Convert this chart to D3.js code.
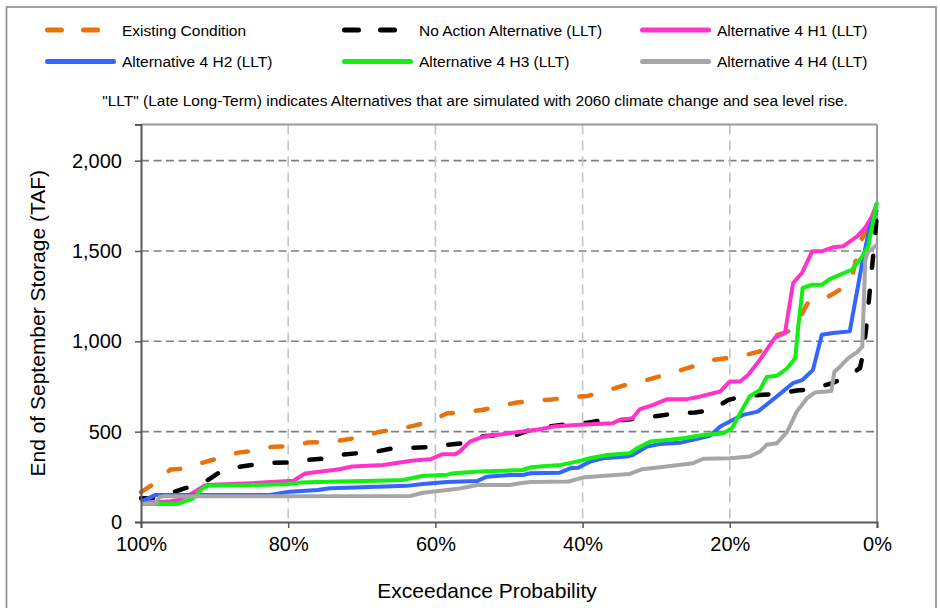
<!DOCTYPE html>
<html>
<head>
<meta charset="utf-8">
<script src="https://cdn.jsdelivr.net/npm/d3@7/dist/d3.min.js"></script>
<style>
  html, body { margin: 0; padding: 0; background: #fff; }
  svg { display: block; font-family: "Liberation Sans", Arial, sans-serif; }
</style>
</head>
<body>
<svg id="chart" width="940" height="608"></svg>
<script>
// ---------- DATA ----------
const seriesNames = ["Existing Condition", "No Action Alternative (LLT)", "Alternative 4 H1 (LLT)",
                     "Alternative 4 H2 (LLT)", "Alternative 4 H3 (LLT)", "Alternative 4 H4 (LLT)"];

const existingProb = [100, 98.5, 96, 94, 91.5, 89, 86.8, 84.5, 82, 79.5, 77.3, 74.7, 72.3, 70.2, 67.5, 65.2, 63, 60.7, 58.4, 56.3, 53.5, 51.5, 48.9, 46.5, 44.2, 41.7, 39.3, 37, 34.6, 32.5, 29.9, 27.7, 25.1, 23, 20.4, 18.3, 15.9, 14.1, 13.5, 11.4, 9.4, 7.1, 5, 3.4, 2.3, 1, 0];
const existingStorage = [165, 205, 290, 296, 330, 358, 384, 395, 417, 420, 440, 442, 455, 470, 500, 513, 532, 556, 602, 606, 621, 642, 661, 672, 678, 691, 698, 722, 754, 772, 802, 827, 860, 893, 907, 920, 944, 1018, 1036, 1064, 1212, 1236, 1286, 1355, 1552, 1640, 1700];

const noActionProb = [100, 98.6, 96.7, 94, 91.6, 89.5, 87.2, 84.8, 82.5, 80, 77.4, 75.3, 72.5, 70.5, 68, 65.8, 63.2, 61, 58.4, 56.2, 53.5, 51.2, 49, 46.7, 44, 41.7, 39.3, 37, 34.5, 32.2, 29.8, 27.2, 24.7, 22.4, 20.2, 18.2, 15.5, 13.5, 10.9, 8.7, 6.1, 3.9, 2.3, 1.8, 1.4, 1.0, 0.7, 0.3, 0];
const noActionStorage = [131, 131, 150, 187, 214, 270, 303, 316, 327, 329, 343, 351, 373, 381, 390, 408, 410, 414, 427, 436, 475, 480, 482, 515, 532, 543, 550, 565, 565, 575, 587, 602, 606, 621, 676, 695, 704, 709, 728, 736, 769, 805, 853, 953, 1100, 1270, 1400, 1560, 1712];

const h1Prob = [100, 96, 95, 93.4, 91.6, 91, 85, 79.3, 77.7, 73, 71.3, 67.1, 63, 60.7, 59.1, 57.3, 56.7, 55.3, 53.5, 51.6, 50, 47.1, 45.8, 44, 40.4, 35.9, 34.9, 33.2, 32.2, 30.4, 28.5, 25.8, 24, 21.3, 20, 18.6, 17.5, 15.9, 13.9, 12.5, 11.4, 10.2, 8.8, 7.5, 6, 4.6, 3.9, 2.7, 1.6, 0.7, 0];
const h1Storage = [104, 115, 122, 150, 196, 205, 215, 228, 268, 292, 307, 316, 340, 347, 375, 375, 390, 445, 473, 482, 491, 506, 513, 528, 538, 547, 565, 575, 625, 648, 680, 680, 695, 722, 778, 778, 815, 898, 1018, 1046, 1323, 1378, 1498, 1498, 1520, 1526, 1546, 1581, 1629, 1690, 1765];

const h2Prob = [100, 98, 82.5, 79.8, 76, 74.3, 72, 63.9, 61.7, 58.4, 54.3, 53, 49.9, 48.1, 47.1, 43.1, 41.7, 40.6, 39, 37.2, 34, 33.2, 31.3, 29.5, 26.8, 24, 22.7, 22.3, 21.3, 20, 18.2, 16.2, 13.6, 11.4, 10.1, 8.7, 7.5, 6, 3.7, 3, 2, 1, 0];
const h2Storage = [113, 150, 150, 168, 177, 187, 190, 200, 210, 222, 227, 251, 260, 260, 270, 273, 297, 300, 334, 353, 362, 371, 417, 432, 438, 464, 477, 491, 528, 556, 593, 611, 695, 769, 787, 842, 1036, 1046, 1055, 1213, 1435, 1629, 1729];

const h3Prob = [100, 95, 92.9, 91.6, 91, 85, 80.2, 78.4, 73, 68, 64.4, 61.8, 58.4, 57.5, 53.9, 48.2, 47, 45.8, 43, 40.8, 39, 36.7, 33.6, 32.6, 30.8, 28.5, 26.4, 23.6, 21, 19.7, 18.6, 17.3, 15.9, 15, 13.6, 12.2, 11.1, 10.7, 10.1, 8.8, 7.5, 6.4, 5, 3.4, 2, 1.2, 0];
const h3Storage = [100, 100, 131, 187, 200, 205, 209, 218, 224, 228, 233, 255, 262, 270, 279, 288, 303, 307, 316, 334, 353, 371, 381, 408, 445, 454, 464, 482, 490, 519, 602, 695, 731, 802, 809, 851, 907, 1082, 1295, 1313, 1313, 1345, 1369, 1396, 1470, 1526, 1770];

const h4Prob = [100, 98, 97.5, 97, 63.4, 61.7, 58.4, 56.7, 54.3, 49.9, 48.3, 47, 41.9, 39.7, 33.6, 31.9, 29.5, 25, 23.6, 20, 17.3, 15.9, 15, 13.6, 12.2, 10.9, 9.5, 8.4, 6.2, 5.8, 5, 3.9, 2.7, 2.0, 1.6, 1.3, 0];
const h4Storage = [100, 104, 137, 142, 144, 162, 177, 185, 205, 205, 216, 222, 224, 248, 266, 292, 303, 325, 350, 353, 362, 390, 427, 436, 500, 611, 685, 717, 725, 830, 861, 907, 940, 970, 1445, 1490, 1535];

const yTicks = [0, 500, 1000, 1500, 2000];
const xTicks = [100, 80, 60, 40, 20, 0];
const noteText = "\"LLT\" (Late Long-Term) indicates Alternatives that are simulated with 2060 climate change and sea level rise.";
const xTitle = "Exceedance Probability";
const yTitle = "End of September Storage (TAF)";

// ---------- STYLES ----------
const seriesProbs = [existingProb, noActionProb, h1Prob, h2Prob, h3Prob, h4Prob];
const seriesVals = [existingStorage, noActionStorage, h1Storage, h2Storage, h3Storage, h4Storage];
const colors = ["#E8730C", "#000000", "#FF33CC", "#3366FF", "#11F011", "#A6A6A6"];
const dashed = [true, true, false, false, false, false];

const svg = d3.select("#chart");
const L = 141, R = 877, T = 124.5, B = 522;

const x = d3.scaleLinear().domain([100, 0]).range([L, R]);
const y = d3.scaleLinear().domain([0, 2200]).range([B, T]);

svg.append("rect").attr("width", 940).attr("height", 608).attr("fill", "#fff");
// outer border
svg.append("rect").attr("x", 6.5).attr("y", 7).attr("width", 929.5).attr("height", 620)
  .attr("fill", "none").attr("stroke", "#8a8a8a").attr("stroke-width", 1.6);

// gridlines
svg.append("g").selectAll("line").data(yTicks.filter(d => d > 0)).join("line")
  .attr("x1", L).attr("x2", R).attr("y1", d => y(d)).attr("y2", d => y(d))
  .attr("stroke", "#808080").attr("stroke-width", 1.6).attr("stroke-dasharray", "8,4.5");
svg.append("g").selectAll("line").data(xTicks.filter(d => d > 0 && d < 100)).join("line")
  .attr("x1", d => x(d)).attr("x2", d => x(d)).attr("y1", T).attr("y2", B)
  .attr("stroke", "#c4c4c4").attr("stroke-width", 1.6).attr("stroke-dasharray", "10,6");

// top/right frame
svg.append("line").attr("x1", L).attr("x2", R).attr("y1", T).attr("y2", T)
  .attr("stroke", "#9a9a9a").attr("stroke-width", 2);
svg.append("line").attr("x1", R).attr("x2", R).attr("y1", T).attr("y2", B)
  .attr("stroke", "#9a9a9a").attr("stroke-width", 2);

// series
const line = d3.line().x(d => x(d[0])).y(d => y(d[1]));
const plot = svg.append("g");
seriesNames.forEach((name, i) => {
  const pts = seriesProbs[i].map((p, j) => [p, seriesVals[i][j]]);
  const path = plot.append("path").datum(pts)
    .attr("d", line).attr("fill", "none").attr("stroke", colors[i])
    .attr("stroke-width", dashed[i] ? 4.5 : 4)
    .attr("stroke-linejoin", "round");
  if (dashed[i]) path.attr("stroke-dasharray", "12,23").attr("stroke-linecap", "round");
});

// axes
const yAxis = d3.axisLeft(y).tickValues(yTicks).tickSize(6).tickPadding(13)
  .tickFormat(d3.format(","));
const gy = svg.append("g").attr("transform", `translate(${L},0)`).call(yAxis);
gy.select(".domain").attr("stroke", "#595959").attr("stroke-width", 2);
gy.selectAll(".tick line").attr("stroke", "#595959").attr("stroke-width", 1.5);
gy.selectAll(".tick text").attr("font-size", 20).attr("fill", "#000")
  .attr("font-family", "Liberation Sans, Arial, sans-serif");

const xAxis = d3.axisBottom(x).tickValues(xTicks).tickSize(6).tickPadding(9)
  .tickFormat(d => d + "%");
const gx = svg.append("g").attr("transform", `translate(0,${B})`).call(xAxis);
gx.select(".domain").attr("stroke", "#595959").attr("stroke-width", 2);
gx.selectAll(".tick line").attr("stroke", "#595959").attr("stroke-width", 1.5);
gx.selectAll(".tick text").attr("font-size", 20).attr("fill", "#000")
  .attr("font-family", "Liberation Sans, Arial, sans-serif");

// axis titles
svg.append("text").attr("x", 487).attr("y", 590).attr("text-anchor", "middle")
  .attr("dominant-baseline", "central").attr("font-size", 21).text(xTitle);
svg.append("text").attr("transform", `translate(37,${(T + B) / 2}) rotate(-90)`)
  .attr("text-anchor", "middle").attr("dominant-baseline", "central")
  .attr("font-size", 21).text(yTitle);

// legend
const legCols = [45, 342, 640];
const legRows = [30, 61.5];
const leg = svg.append("g");
seriesNames.forEach((name, i) => {
  const lx = legCols[i % 3], ly = legRows[Math.floor(i / 3)];
  if (dashed[i]) {
    leg.append("line").attr("x1", lx + 2.5).attr("x2", lx + 68.5).attr("y1", ly).attr("y2", ly)
      .attr("stroke", colors[i]).attr("stroke-width", 5).attr("stroke-linecap", "round")
      .attr("stroke-dasharray", "14,22");
  } else {
    leg.append("line").attr("x1", lx + 2.5).attr("x2", lx + 68.5).attr("y1", ly).attr("y2", ly)
      .attr("stroke", colors[i]).attr("stroke-width", 5).attr("stroke-linecap", "round");
  }
  leg.append("text").attr("x", lx + 77).attr("y", ly).attr("dominant-baseline", "central")
    .attr("font-size", 15.5).attr("fill", "#000").text(name);
});

svg.append("text").attr("x", 475).attr("y", 100).attr("text-anchor", "middle")
  .attr("dominant-baseline", "central").attr("font-size", 15.5).text(noteText);
</script>
</body>
</html>
